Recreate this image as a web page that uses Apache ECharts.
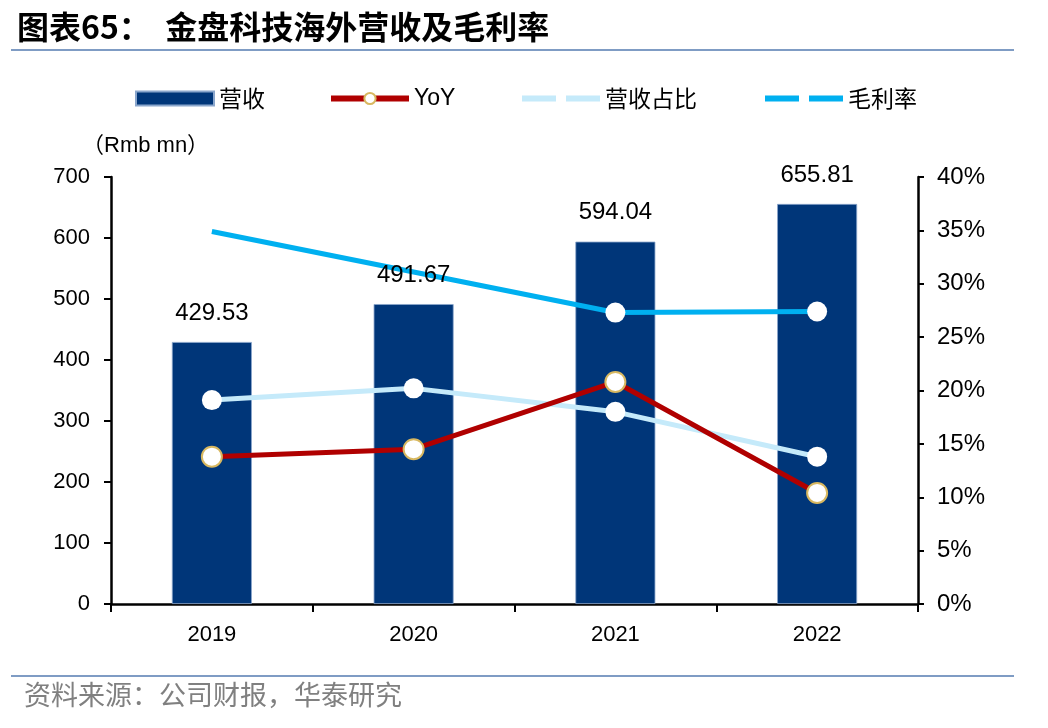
<!DOCTYPE html>
<html>
<head>
<meta charset="utf-8">
<script src="https://cdn.jsdelivr.net/npm/echarts@6/dist/echarts.min.js"></script>
<style>
html, body { margin: 0; padding: 0; background: #fff; }
#chart { width: 1048px; height: 728px; }
</style>
</head>
<body>
<div id="chart"></div>
<script>
// 金盘科技海外营收及毛利率
var years = ['2019', '2020', '2021', '2022'];
var revenue = [429.53, 491.67, 594.04, 655.81];      // 营收 (Rmb mn)
var yoy = [13.8, 14.5, 20.8, 10.4];                  // YoY %
var revenueShare = [19.1, 20.2, 18.0, 13.8];         // 营收占比 %
var grossMargin = [34.9, 31.1, 27.3, 27.4];          // 毛利率 %
var leftTicks = [0, 700, 100];
var rightTicks = [0, 40, 5];

var chart = echarts.init(document.getElementById('chart'));
var font = '"Liberation Sans", Arial, "Noto Sans CJK SC", sans-serif';
var cjk = '"Noto Sans CJK SC", sans-serif';

// 毛利率前两个点不显示标记
var marginData = grossMargin.map(function (v, i) {
	return i < 2 ? { value: v, symbolSize: 0 } : v;
});

// 每个图例单独摆放
function legendAt(x, item, fam) {
	return {
		top: 87,
		left: x,
		padding: 0,
		itemWidth: 78,
		itemHeight: 14,
		itemGap: 8,
		textStyle: { fontFamily: fam || cjk, fontSize: 23, color: '#000' },
		data: [item]
	};
}

chart.setOption({
	animation: false,
	title: {
		text: '图表65：  金盘科技海外营收及毛利率',
		left: 12,
		top: 6,
		textStyle: { fontFamily: cjk, fontWeight: 'bold', fontSize: 32, color: '#000' }
	},
	legend: [
		legendAt(135, { name: '营收', icon: 'rect' }),
		legendAt(328, { name: 'YoY', lineStyle: { width: 6 } }, font),
		legendAt(519, { name: '营收占比', itemStyle: { opacity: 0 }, lineStyle: { width: 6, type: [34, 10] } }),
		legendAt(762, { name: '毛利率', itemStyle: { opacity: 0 }, lineStyle: { width: 6, type: [34, 10] } })
	],
	grid: { left: 111, right: 130, top: 177, bottom: 124 },
	xAxis: {
		type: 'category',
		data: years,
		axisLine: { lineStyle: { color: '#000', width: 2.5 } },
		axisTick: { show: true, length: 8, lineStyle: { color: '#000', width: 2 } },
		axisLabel: { fontFamily: font, fontSize: 22, color: '#000', margin: 20 }
	},
	yAxis: [{
		type: 'value',
		min: leftTicks[0],
		max: leftTicks[1],
		interval: leftTicks[2],
		splitLine: { show: false },
		axisLine: { show: true, lineStyle: { color: '#000', width: 2.5 } },
		axisTick: { show: true, length: 7, lineStyle: { color: '#000', width: 2 } },
		axisLabel: { fontFamily: font, fontSize: 22, color: '#000', margin: 21 }
	}, {
		type: 'value',
		min: rightTicks[0],
		max: rightTicks[1],
		interval: rightTicks[2],
		splitLine: { show: false },
		axisLine: { show: true, lineStyle: { color: '#000', width: 2.5 } },
		axisTick: { show: true, length: 6, lineStyle: { color: '#000', width: 2 } },
		axisLabel: { fontFamily: font, fontSize: 24, color: '#000', margin: 19, formatter: '{value}%' }
	}],
	graphic: [
		{ type: 'line', shape: { x1: 11, y1: 50, x2: 1014, y2: 50 }, style: { stroke: '#7f9cc4', lineWidth: 2 } },
		{ type: 'line', shape: { x1: 11, y1: 676, x2: 1014, y2: 676 }, style: { stroke: '#7f9cc4', lineWidth: 2 } },
		{ type: 'text', left: 82, top: 135, style: { text: '（Rmb mn）', font: '22px ' + font, fill: '#000' } },
		{ type: 'text', left: 24, top: 681, style: { text: '资料来源：公司财报，华泰研究', font: '27px ' + cjk, fill: '#808080' } }
	],
	series: [{
		name: '营收',
		type: 'bar',
		data: revenue,
		barWidth: 80,
		itemStyle: { color: '#003679', borderColor: '#8aa6cc', borderWidth: 0.8 }
	}, {
		name: 'YoY',
		type: 'line',
		yAxisIndex: 1,
		data: yoy,
		symbol: 'circle',
		symbolSize: 20,
		lineStyle: { color: '#b00000', width: 5 },
		itemStyle: { color: '#fff', borderColor: '#d8b860', borderWidth: 2 },
		z: 4
	}, {
		name: '营收占比',
		type: 'line',
		yAxisIndex: 1,
		data: revenueShare,
		symbol: 'circle',
		symbolSize: 20,
		lineStyle: { color: '#c5eafa', width: 5 },
		itemStyle: { color: '#fff', borderWidth: 0 },
		z: 3
	}, {
		name: '毛利率',
		type: 'line',
		yAxisIndex: 1,
		data: marginData,
		symbol: 'circle',
		symbolSize: 20,
		lineStyle: { color: '#00b0f0', width: 5 },
		itemStyle: { color: '#fff', borderWidth: 0 },
		z: 3
	}, {
		// 柱顶数值标签，画在折线之上
		name: '营收标签',
		type: 'scatter',
		data: revenue,
		symbolSize: 0,
		silent: true,
		z: 10,
		itemStyle: { opacity: 1 },
		label: { show: true, position: 'top', distance: 17, fontFamily: font, fontSize: 24, color: '#000' }
	}]
});
</script>
</body>
</html>
